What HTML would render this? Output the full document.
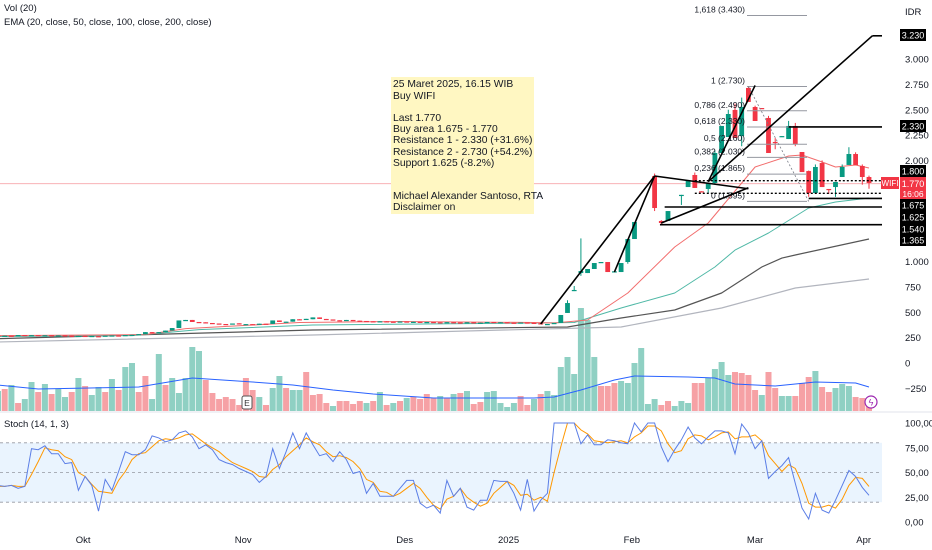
<!DOCTYPE html>
<html><head><meta charset="utf-8">
<style>
html,body{margin:0;padding:0;background:#fff;}
svg{display:block;font-family:"Liberation Sans",sans-serif;}
</style></head>
<body>
<svg id="chart" width="932" height="550" viewBox="0 0 932 550" xmlns="http://www.w3.org/2000/svg"></svg>
<script>
// ---- data ----
const opens  = [272,268,270,269,276,274,275,273,274,272,273,270,266,268,265,265,264,270,272,271,276,278,282,305,300,305,320,345,420,425,405,402,395,390,385,382,392,380,384,382,388,386,420,405,408,432,430,432,450,435,430,422,420,425,418,415,412,410,412,408,406,410,405,407,404,405,402,400,403,400,398,402,396,398,405,400,402,398,396,400,397,392,380,385,395,494,710,888,888,928,990,997,900,898,997,1224,null,null,1846,1402,1402,null,1655,1737,1856,1695,1718,1777,2073,2231,2498,2241,2715,2527,2517,2419,2182,2231,2211,2340,2083,1895,1678,1974,1718,1737,1836,1955,2063,1945,1836];
const closes = [268,270,269,276,274,275,273,274,272,273,270,266,268,265,267,262,270,272,271,276,278,285,305,300,305,320,345,420,425,405,400,395,390,385,382,390,380,384,382,388,386,420,405,408,432,430,436,450,435,430,422,420,425,418,415,412,410,412,408,406,410,405,407,404,405,402,400,403,400,398,402,396,398,405,400,402,398,396,400,397,392,385,385,395,474,592,721,908,928,987,997,898,905,987,1224,1392,null,null,1530,1382,1500,null,1660,1806,1728,1688,1777,2073,2340,2458,2221,2527,2577,2389,2510,2073,2170,2240,2340,2162,1885,1678,1935,1737,1710,1787,1935,2063,1955,1836,1777];
const highs  = {85:620,86:760,87:1230,98:1870,99:1410,104:1880,107:2100,109:2500,110:2560,111:2620,112:2730,113:2540,115:2440,116:2220,118:2390,119:2370,121:1900,122:1960,123:2000,126:1960,127:2130,128:2080,129:1960,130:1850};
const lows   = {87:860,94:980,98:1500,99:1370,102:1560,106:1680,107:1760,111:2140,116:2110,119:2140,121:1640,124:1670,125:1640,129:1760,130:1720};
const volumes = [20,22,26,8,12,29,19,27,17,22,14,19,33,25,16,24,19,32,21,44,48,19,35,12,57,26,33,18,33,64,60,31,18,12,14,12,6,33,21,14,6,23,35,23,21,21,39,16,17,8,5,10,10,7,10,8,10,19,6,8,10,13,14,12,17,13,15,13,17,18,20,7,9,19,20,8,4,8,15,6,12,17,20,16,44,54,37,103,91,54,25,25,28,30,28,48,63,7,12,6,10,5,10,8,28,28,33,42,49,36,39,38,36,21,16,39,23,15,15,15,28,34,40,24,19,23,27,25,14,13,12];
const volUp = [1,0,1,0,1,1,0,1,0,1,1,0,1,0,1,1,0,1,0,1,1,0,0,1,1,0,1,1,1,1,1,0,0,0,0,0,0,0,0,1,0,1,1,0,1,1,0,0,0,0,1,0,0,0,0,1,0,1,0,1,0,1,0,0,0,0,1,0,1,0,1,0,0,1,1,1,1,1,0,0,1,0,1,1,1,1,1,1,1,1,0,0,0,1,1,1,1,1,1,0,0,1,1,1,0,0,1,1,1,1,0,0,0,0,1,0,0,1,1,0,0,0,1,0,0,1,1,1,0,0,0];
const volMaIdx = [0,6,21,29,38,44,50,56,65,80,83,87,92,95,103,107,110,116,122,128,130];
const volMaVal = [26,22,24,33,29,26,21,17,13,13,14,21,31,35,34,33,27,25,29,28,24];
const ema20Idx = [0,22,28,45,60,80,83,88,94,101,106,113,118,120,123,125,128,130];
const ema20Val = [270,280,340,400,410,400,395,424,691,1145,1382,1935,2043,2053,1984,1935,1955,1925];
const ema50Idx = [0,20,30,47,80,86,93,101,107,110,115,121,125,130];
const ema50Val = [262,270,330,375,395,400,543,691,948,1115,1283,1530,1589,1629];
const ema100Idx = [0,47,85,93,101,108,114,117,119,130];
const ema100Val = [240,326,355,444,523,691,948,1036,1066,1224];
const ema200Idx = [0,47,93,108,119,130];
const ema200Val = [207,276,355,543,740,829];
const stochK = [37,36,37,34,36,74,73,77,69,69,59,60,32,46,37,11,43,32,51,71,68,68,73,87,85,81,83,90,92,86,74,78,73,63,60,58,54,51,48,40,46,74,54,71,90,74,90,78,67,69,61,71,63,49,51,29,39,26,26,26,34,42,42,19,14,17,9,42,26,34,15,12,22,22,42,41,41,29,12,43,11,22,29,100,100,100,100,79,88,78,78,83,82,80,79,100,91,100,100,76,61,73,83,96,85,79,86,92,92,90,69,99,90,74,82,44,51,57,65,39,14,3,29,12,9,22,37,52,46,35,27];
const stochD = [36,36,37,36,36,48,61,75,73,72,66,63,50,46,38,31,30,29,42,51,63,69,70,76,82,84,83,85,88,89,84,79,75,71,65,60,57,54,51,46,45,53,58,66,72,78,85,81,78,71,66,67,65,61,54,43,40,31,30,26,29,34,39,34,25,17,13,23,26,34,25,20,16,19,29,35,41,37,27,28,22,25,21,50,76,100,100,93,89,82,81,80,81,82,80,86,90,97,97,92,79,70,72,84,88,87,83,86,90,91,84,86,86,88,82,67,59,51,58,54,39,19,15,15,17,14,23,37,45,44,36];
const priceTicks = [3000,2750,2500,2250,2000,1000,750,500,250,0,-250];
const priceTickLabels = ["3.000","2.750","2.500","2.250","2.000","1.000","750","500","250","0","\u2212250"];
const stochTicks = [100,75,50,25,0];
const stochTickLabels = ["100,00","75,00","50,00","25,00","0,00"];
const monthIdx = [12.7,36.6,60.7,76.2,94.6,113,129.2];
const monthLabels = ["Okt","Nov","Des","2025","Feb","Mar","Apr"];
const fibPrices = [3430,2730,2490,2330,2160,2030,1865,1595];
const fibLabels = ["1,618 (3.430)","1 (2.730)","0,786 (2.490)","0,618 (2.330)","0,5 (2.160)","0,382 (2.030)","0,236 (1.865)","0 (1.595)"];
const levelPrices = [3230,2330,1800,1675,1625,1540,1365];
const levelLabels = ["3.230","2.330","1.800","1.675","1.625","1.540","1.365"];
const lastPrice = 1770;

// ---- scales ----
const N = closes.length;
function X(i){ return 869 - (N-1-i)*6.7; }
function Y(p){ return 363 - p*0.1013; }
function VY(v){ return 411 - v*1.0; }
function SY(s){ return 522 - s*0.99; }

const svg = document.getElementById('chart');
const NS = 'http://www.w3.org/2000/svg';
function mk(tag, attrs, parent){
  const e = document.createElementNS(NS, tag);
  for (const k in attrs) e.setAttribute(k, attrs[k]);
  (parent||svg).appendChild(e);
  return e;
}
function txt(x,y,s,size,fill,anchor,parent){
  const t = mk('text',{x:x,y:y,'font-size':size,fill:fill,'text-anchor':anchor||'start'},parent);
  t.textContent = s; return t;
}

// stoch band
const band = mk('rect',{x:0,y:SY(80),width:882,height:SY(20)-SY(80),fill:'#e3f0fd',opacity:0.75});


[80,50,20].forEach(v=>{
  const l = mk('line',{x1:0,x2:882,y1:SY(v),y2:SY(v),stroke:'#9598a1','stroke-dasharray':'3,3','stroke-width':0.8});
  
  
});
// separator
const sep = mk('line',{x1:0,x2:932,y1:412,y2:412,stroke:'#e0e3eb','stroke-width':1});



// current price line
const cpl = mk('line',{x1:0,x2:882,y1:Y(lastPrice),y2:Y(lastPrice),stroke:'#f7a6ac','stroke-width':0.8});



// volume bars
const gv = mk('g',{});


volumes.forEach((v,i)=>{
  const r = mk('rect',{x:X(i)-3,y:VY(v),width:6,height:411-VY(v),fill:volUp[i]?'#8fd0c3':'#f6a1a5'},gv);
  
  
});

function polyKnots(idx,val,fy,color,w,name){
  const pts = idx.map((k,j)=>X(k).toFixed(1)+','+fy(val[j]).toFixed(1)).join(' ');
  const p = mk('polyline',{points:pts,fill:'none',stroke:color,'stroke-width':w,'stroke-linejoin':'round'});
  
  
}
polyKnots(volMaIdx,volMaVal,VY,'#2962ff',1,'volume-ma-line');
polyKnots(ema200Idx,ema200Val,Y,'#b2b5be',1.2,'ema200-line');
polyKnots(ema100Idx,ema100Val,Y,'#555',1.2,'ema100-line');
polyKnots(ema50Idx,ema50Val,Y,'#4fb8a6',1,'ema50-line');
polyKnots(ema20Idx,ema20Val,Y,'#f26d6d',1,'ema20-line');

// candles
const gc = mk('g',{});


for(let i=0;i<N;i++){
  if(opens[i]===null) continue;
  const o=opens[i], c=closes[i], up=c>=o, col=up?'#089981':'#f23645';
  const h = highs[i]!==undefined?highs[i]:Math.max(o,c);
  const l = lows[i]!==undefined?lows[i]:Math.min(o,c);
  const w = mk('line',{x1:X(i),x2:X(i),y1:Y(h),y2:Y(l),stroke:col,'stroke-width':1},gc);
  
  
  const top=Y(Math.max(o,c)), bh=Math.max(1.2,Y(Math.min(o,c))-top);
  const b = mk('rect',{x:X(i)-2.4,y:top,width:4.8,height:bh,fill:col},gc);
  
  
}

// fib retracement
const gf = mk('g',{});


fibPrices.forEach((p,j)=>{
  const l = mk('line',{x1:747,x2:807,y1:Y(p),y2:Y(p),stroke:'#9598a1','stroke-width':1},gf);
  
  
  const t = txt(745,Y(p)-3,fibLabels[j],8.5,'#131722','end',gf);
  
  
});
const fd = mk('line',{x1:X(112),y1:Y(2730),x2:X(121),y2:Y(1595),stroke:'#787b86','stroke-width':0.8,'stroke-dasharray':'2,2'});



// trend lines (drawings)
const tl = [[81,385,98,1846],[92,898,98,1846],[98,1846,112,1720],[99,1382,112,1730],[106,1790,113,2740],[106,1790,130.5,3230]];
tl.forEach(s=>{
  const l = mk('line',{x1:X(s[0]),y1:Y(s[1]),x2:X(s[2]),y2:Y(s[3]),stroke:'#000','stroke-width':1.6});
  
  
});
// horizontal levels
const levStart = [130.5,118,104,104,121,99.5,98.8];
const levDash = [0,0,1,1,0,0,0];
levelPrices.forEach((p,j)=>{
  const l = mk('line',{x1:X(levStart[j]),x2:882,y1:Y(p),y2:Y(p),stroke:'#000','stroke-width':levDash[j]?1.4:1.6,'stroke-dasharray':levDash[j]?'2,2':'none'});
  
  
});

// annotation box
const ab = mk('rect',{x:391,y:77,width:143,height:137,fill:'#fff7c2'});


const noteLines = [["25 Maret 2025, 16.15 WIB",87],["Buy WIFI",99],["Last 1.770",121],["Buy area 1.675 - 1.770",132],["Resistance 1 - 2.330 (+31.6%)",143],["Resistance 2 - 2.730 (+54.2%)",155],["Support 1.625 (-8.2%)",166],["Michael Alexander Santoso, RTA",199],["Disclaimer on",210]];
noteLines.forEach(n=>{
  const t = txt(393,n[1],n[0],10.3,'#131722','start');
  
  
});

// stoch lines
function series(arr,color,name){
  const pts = arr.map((v,i)=>X(i).toFixed(1)+','+SY(v).toFixed(1)).join(' ');
  const p = mk('polyline',{points:pts,fill:'none',stroke:color,'stroke-width':1});
  
  
}
series(stochD,'#ff9800','stoch-d-line');
series(stochK,'#5b7ee6','stoch-k-line');

// right axis
priceTicks.forEach((p,j)=>{
  const t = txt(905,Y(p)+3.5,priceTickLabels[j],9.5,'#131722','start');
  
  
});
stochTicks.forEach((s,j)=>{
  const t = txt(905,SY(s)+3.5,stochTickLabels[j],9.5,'#131722','start');
  
  
});
const idr = txt(905,15,'IDR',9.5,'#131722','start');



// level boxes on axis
const boxY = [35,126,171,205,217,229,240];
levelLabels.forEach((s,j)=>{
  const r = mk('rect',{x:900,y:boxY[j]-6,width:26,height:12,fill:'#000'});
  
  
  const t = txt(913,boxY[j]+3.5,s,9,'#fff','middle');
  
  
});
const wb = mk('rect',{x:881,y:177,width:18,height:12,fill:'#f23645'});


const wt = txt(890,186,'WIFI',8,'#fff','middle');


const lb = mk('rect',{x:900,y:177,width:26,height:22,fill:'#f23645'});


const lt1 = txt(913,187,'1.770',9,'#fff','middle');


const lt2 = txt(913,197,'16:06',8.5,'#fff','middle');



// x axis
monthIdx.forEach((k,j)=>{
  const t = txt(X(k),543,monthLabels[j],9.5,'#131722','middle');
  
  
});

// legends
const l1 = txt(4,11,'Vol (20)',9.5,'#131722');


const l2 = txt(4,25,'EMA (20, close, 50, close, 100, close, 200, close)',9.5,'#131722');


const l3 = txt(4,427,'Stoch (14, 1, 3)',9.5,'#131722');



// earnings marker
const em = mk('rect',{x:242,y:396,width:10,height:13,rx:2,fill:'#fff',stroke:'#555','stroke-width':1});


const et = txt(247,406,'E',8.5,'#333','middle');


// lightning marker
const lc = mk('circle',{cx:871,cy:402,r:6,fill:'#fff',stroke:'#9c27b0','stroke-width':1.2});


const lp = txt(871,405.5,'\u03DF',9,'#9c27b0','middle');


</script>
</body></html>
